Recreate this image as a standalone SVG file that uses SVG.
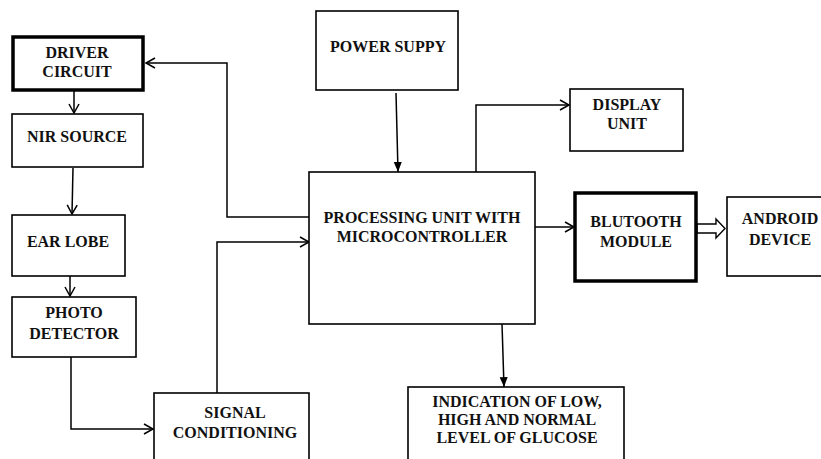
<svg xmlns="http://www.w3.org/2000/svg" width="821" height="459" viewBox="0 0 821 459">
<defs>
<marker id="open" markerUnits="userSpaceOnUse" markerWidth="12" markerHeight="12" refX="9" refY="5" orient="auto" overflow="visible">
<path d="M0,0 L9,5 L0,10" fill="none" stroke="#000" stroke-width="1.5"/>
</marker>
<marker id="solid" markerUnits="userSpaceOnUse" markerWidth="12" markerHeight="12" refX="10" refY="4" orient="auto" overflow="visible">
<path d="M0,0 L10,4 L0,8 z" fill="#000"/>
</marker>
<style>
.box{fill:#fff;stroke:#000;stroke-width:1.6}
.thick{fill:#fff;stroke:#000;stroke-width:3.5}
.t{font-family:'Liberation Serif','DejaVu Serif',serif;font-weight:bold;font-size:16px;fill:#111;text-anchor:middle}
.c{fill:none;stroke:#000;stroke-width:1.5}
</style>
</defs>
<rect width="821" height="459" fill="#fff"/>
<g id="connectors">
<path class="c" d="M74,91 L74,113" marker-end="url(#open)"/>
<path class="c" d="M73,168 L72,214" marker-end="url(#open)"/>
<path class="c" d="M70,263 L70,296" marker-end="url(#open)"/>
<path class="c" d="M71,357 L71,429 L153,429" marker-end="url(#open)"/>
<path class="c" d="M217,393 L217,242 L309,242" marker-end="url(#open)"/>
<path class="c" d="M309,217 L227,217 L227,63 L146,63" marker-end="url(#open)"/>
<path class="c" d="M396,93 L398,172" marker-end="url(#solid)"/>
<path class="c" d="M476,172 L476,105 L569,105" marker-end="url(#open)"/>
<path class="c" d="M535,227 L574,227" marker-end="url(#open)"/>
<path class="c" d="M502,324 L504,387" marker-end="url(#solid)"/>
<polygon points="697,224 716,224 716,219 725,228.5 716,238 716,233 697,233" fill="#fff" stroke="#000" stroke-width="1.4"/>
</g>
<g id="driver"><rect class="thick" x="13" y="37" width="130" height="53"/><text class="t" x="77" y="58">DRIVER</text><text class="t" x="77" y="77">CIRCUIT</text></g>
<g id="nir"><rect class="box" x="12" y="114" width="131" height="53"/><text class="t" x="77" y="142">NIR SOURCE</text></g>
<g id="ear"><rect class="box" x="12" y="215" width="113" height="61"/><text class="t" x="68" y="247">EAR LOBE</text></g>
<g id="photo"><rect class="box" x="12" y="297" width="124" height="60"/><text class="t" x="74" y="318">PHOTO</text><text class="t" x="74" y="339">DETECTOR</text></g>
<g id="signal"><rect class="box" x="154" y="393" width="155" height="80"/><text class="t" x="235" y="418">SIGNAL</text><text class="t" x="235" y="438">CONDITIONING</text></g>
<g id="power"><rect class="box" x="316" y="11" width="142" height="79"/><text class="t" x="388" y="52">POWER SUPPY</text></g>
<g id="processing"><rect class="box" x="309" y="172" width="226" height="152"/><text class="t" x="422" y="223">PROCESSING UNIT WITH</text><text class="t" x="422" y="242">MICROCONTROLLER</text></g>
<g id="display"><rect class="box" x="570" y="89" width="113" height="62"/><text class="t" x="627" y="110">DISPLAY</text><text class="t" x="627" y="129">UNIT</text></g>
<g id="bluetooth"><rect class="thick" x="575" y="193" width="121" height="88"/><text class="t" x="636" y="227">BLUTOOTH</text><text class="t" x="636" y="247">MODULE</text></g>
<g id="android"><rect class="box" x="727" y="197" width="100" height="79"/><text class="t" x="780" y="224">ANDROID</text><text class="t" x="780" y="245">DEVICE</text></g>
<g id="indication"><rect class="box" x="408" y="387" width="216" height="90"/><text class="t" x="517" y="407">INDICATION OF LOW,</text><text class="t" x="517" y="425">HIGH AND NORMAL</text><text class="t" x="517" y="443">LEVEL OF GLUCOSE</text></g>
</svg>
